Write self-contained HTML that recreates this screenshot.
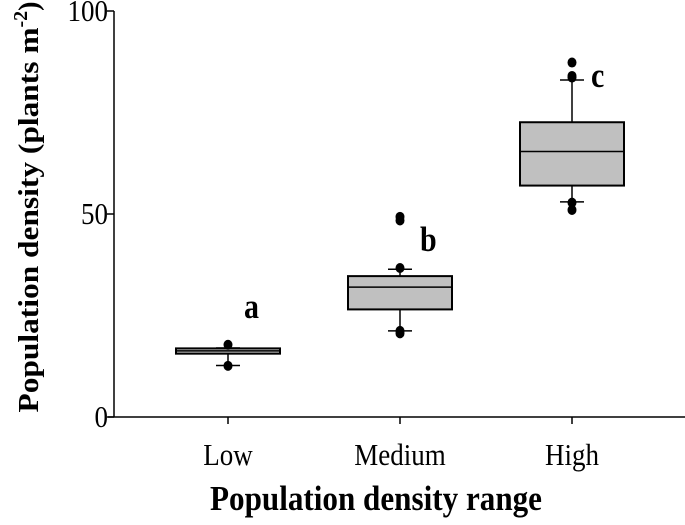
<!DOCTYPE html>
<html><head><meta charset="utf-8"><style>
html,body{margin:0;padding:0;background:#fff;}
svg{display:block;font-family:"Liberation Serif",serif;}
</style></head><body>
<svg id="chart" width="685" height="525" viewBox="0 0 685 525">
<g id="axes"></g>
<g id="boxes"></g>
<text transform="translate(376,510) scale(1,1.15)" text-anchor="middle" font-size="30" font-weight="bold" textLength="332" lengthAdjust="spacingAndGlyphs">Population density range</text>
<text transform="translate(38,207) rotate(-90)" text-anchor="middle" font-size="28" font-weight="bold"><tspan textLength="385" lengthAdjust="spacingAndGlyphs">Population density (plants m</tspan><tspan dy="-11" font-size="20">-2</tspan><tspan dy="11">)</tspan></text>
</svg>
<script>
const categories = ["Low","Medium","High"];
const q1 = [15.6, 26.5, 57.0];
const medians = [16.3, 32.0, 65.4];
const q3 = [16.9, 34.7, 72.6];
const whiskerLow = [12.7, 21.2, 53.0];
const whiskerHigh = [17.0, 36.4, 83.0];
const outliers = [[17.8, 12.6], [49.3, 48.4, 36.7, 21.2, 20.6], [87.3, 84.0, 83.6, 52.8, 51.0]];
const letters = ["a","b","c"];
const letterValues = [24.4, 40.9, 81.3];
const yTicks = [0, 50, 100];

const NS = "http://www.w3.org/2000/svg";
const y0 = 417, y100 = 11, xLeft = 114, xRight = 685;
function yScale(v){ return y0 + (y100 - y0) * v / 100; }
function xScale(i){ return 228 + i * 172; }
const boxW = 104;
const letterDx = [16, 20, 19];
function mk(tag, attrs, parent){ const e = document.createElementNS(NS, tag); for (const k in attrs) e.setAttribute(k, attrs[k]); parent.appendChild(e); return e; }
const axes = document.getElementById('axes');
const boxes = document.getElementById('boxes');

let yl = mk('line', {x1:xLeft, y1:y0, x2:xLeft, y2:yScale(100), stroke:'#000', 'stroke-width':1.5}, axes);


let xl = mk('line', {x1:xLeft-6, y1:y0, x2:xRight, y2:y0, stroke:'#000', 'stroke-width':1.5}, axes);


yTicks.forEach(t => {
  const tk = mk('line', {x1:xLeft-7, y1:yScale(t), x2:xLeft, y2:yScale(t), stroke:'#000', 'stroke-width':1.5}, axes);
  
  
  const lb = mk('text', {transform:'translate(' + (xLeft-6) + ',' + (yScale(t)+10) + ') scale(1,1.15)', 'text-anchor':'end', 'font-size':27}, axes);
  lb.textContent = t;
  
  
});
categories.forEach((c, i) => {
  const x = xScale(i);
  const tk = mk('line', {x1:x, y1:y0, x2:x, y2:y0+7, stroke:'#000', 'stroke-width':1.5}, axes);
  
  
  const lb = mk('text', {transform:'translate(' + x + ',465) scale(1,1.15)', 'text-anchor':'middle', 'font-size':27}, axes);
  lb.textContent = c;
  
  

  const g = mk('g', {}, boxes);
  
  
  mk('line', {x1:x, y1:yScale(q3[i]), x2:x, y2:yScale(whiskerHigh[i]), stroke:'#000', 'stroke-width':1.5}, g);
  mk('line', {x1:x, y1:yScale(q1[i]), x2:x, y2:yScale(whiskerLow[i]), stroke:'#000', 'stroke-width':1.5}, g);
  mk('line', {x1:x-12, y1:yScale(whiskerHigh[i]), x2:x+12, y2:yScale(whiskerHigh[i]), stroke:'#000', 'stroke-width':1.5}, g);
  mk('line', {x1:x-12, y1:yScale(whiskerLow[i]), x2:x+12, y2:yScale(whiskerLow[i]), stroke:'#000', 'stroke-width':1.5}, g);
  mk('rect', {x:x-boxW/2, y:yScale(q3[i]), width:boxW, height:yScale(q1[i])-yScale(q3[i]), fill:'#c0c0c0', stroke:'#000', 'stroke-width':2}, g);
  mk('line', {x1:x-boxW/2, y1:yScale(medians[i]), x2:x+boxW/2, y2:yScale(medians[i]), stroke:'#000', 'stroke-width':1.5}, g);
  outliers[i].forEach(v => {
    const d = mk('ellipse', {cx:x, cy:yScale(v), rx:4.5, ry:5, fill:'#000'}, g);
    
    
  });
  const lt = mk('text', {transform:'translate(' + (x + letterDx[i]) + ',' + yScale(letterValues[i]) + ') scale(1,1.15)', 'font-size':30, 'font-weight':'bold'}, g);
  lt.textContent = letters[i];
  
  
});
</script>
</body></html>
